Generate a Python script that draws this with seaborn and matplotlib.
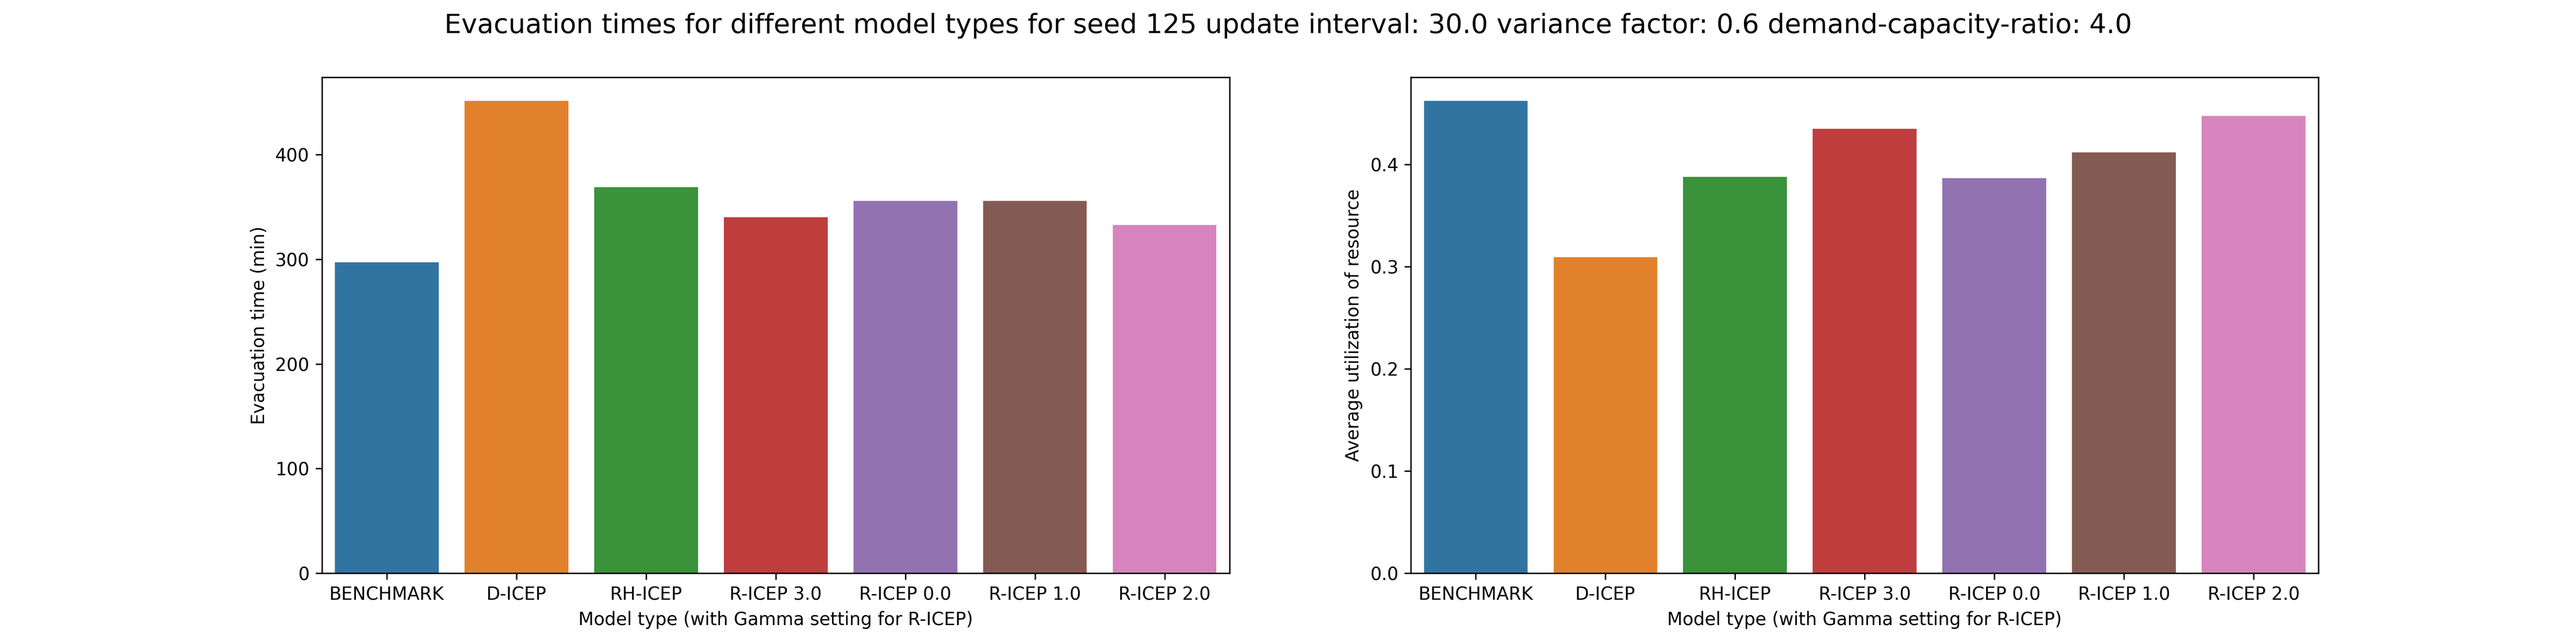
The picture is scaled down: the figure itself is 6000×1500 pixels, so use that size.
import matplotlib
matplotlib.use("Agg")
import matplotlib.pyplot as plt
import seaborn as sns
import pandas as pd

models = ["BENCHMARK", "D-ICEP", "RH-ICEP", "R-ICEP 3.0", "R-ICEP 0.0", "R-ICEP 1.0", "R-ICEP 2.0"]
evac_times = [297, 451.4, 369, 340, 355.8, 355.8, 332.8]
utilization = [0.462, 0.309, 0.3876, 0.4349, 0.3866, 0.4114, 0.4473]

df = pd.DataFrame({"model": models, "evac": evac_times, "util": utilization})

fig, axes = plt.subplots(1, 2, figsize=(20, 5))

sns.barplot(data=df, x="model", y="evac", hue="model", legend=False, ax=axes[0])
axes[0].set_xlabel("Model type (with Gamma setting for R-ICEP)")
axes[0].set_ylabel("Evacuation time (min)")

sns.barplot(data=df, x="model", y="util", hue="model", legend=False, ax=axes[1])
axes[1].set_xlabel("Model type (with Gamma setting for R-ICEP)")
axes[1].set_ylabel("Average utilization of resource")

fig.suptitle("Evacuation times for different model types for seed 125 update interval: 30.0 "
             "variance factor: 0.6 demand-capacity-ratio: 4.0", fontsize=15)

plt.savefig("out.png", dpi=300)
plt.close()
